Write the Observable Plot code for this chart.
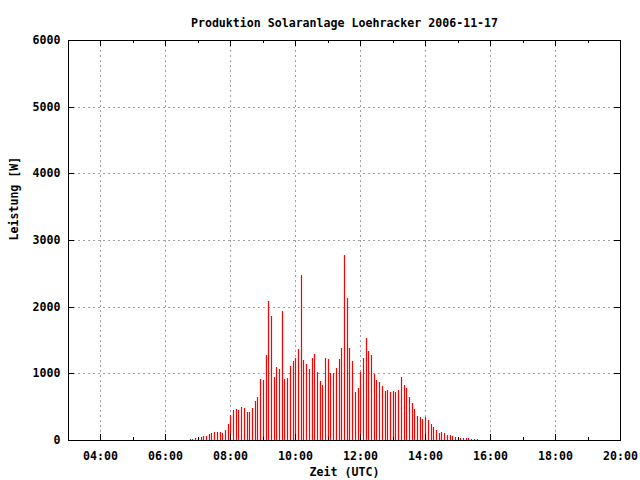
<!DOCTYPE html>
<html><head><meta charset="utf-8">
<script src="https://cdn.jsdelivr.net/npm/d3@7"></script>
<script src="https://cdn.jsdelivr.net/npm/@observablehq/plot@0.6"></script>
<style>body{margin:0;background:#fff}</style>
</head><body><div id="chart"></div>
<script>
const title = "Produktion Solaranlage Loehracker 2006-11-17";
const day = "2006-11-17";
const xLabel = "Zeit (UTC)";
const yLabel = "Leistung [W]";
const startTime = "06:45";
const stepMinutes = 5;
const power = [
  15, 15, 30, 30, 45, 60, 60, 90, 105, 120, 120, 120, 105, 150, 240, 375, 450, 465, 450, 495, 480, 420, 420, 480,
  585, 645, 915, 900, 1275, 2085, 1860, 945, 1095, 1065, 1935, 915, 930, 1110, 1185, 1230, 1365, 2475, 1200, 1140, 1065,
  1230, 1290, 1020, 885, 825, 1230, 1215, 1005, 1005, 1080, 1215, 1380, 2775, 2130, 1380, 1185, 720, 780, 1020, 1230, 1530,
  1335, 1275, 990, 900, 870, 810, 735, 750, 720, 735, 720, 750, 945, 825, 780, 645, 555, 465, 360, 345, 315, 345, 300,
  240, 195, 150, 105, 120, 105, 75, 75, 60, 45, 30, 30, 30, 30, 30, 15, 15, 15
];
const xDomainLabels = ["03:00", "20:00"];
const xTickLabels = ["04:00", "06:00", "08:00", "10:00", "12:00", "14:00", "16:00", "18:00", "20:00"];
const xMinorLabels = ["05:00", "07:00", "09:00", "11:00", "13:00", "15:00", "17:00", "19:00"];
const yTicks = [0, 1000, 2000, 3000, 4000, 5000, 6000];

const toDate = hm => new Date(`${day}T${hm}:00Z`);
const t0 = toDate(startTime);
const data = power.map((p, i) => ({time: new Date(+t0 + i * stepMinutes * 60000), power: p}));
const xMajor = xTickLabels.map(toDate);
const xMinor = xMinorLabels.map(toDate);
const xDomain = xDomainLabels.map(toDate);

const W = 640, H = 480, mL = 68, mR = 20, mT = 40, mB = 40;
const fw = W - mL - mR, fh = H - mT - mB;
const grid = {stroke: "#a0a0a0", strokeOpacity: 1, strokeDasharray: "2,3"};

const chart = Plot.plot({
  width: W, height: H,
  marginLeft: mL, marginRight: mR, marginTop: mT, marginBottom: mB,
  style: {fontFamily: "'DejaVu Sans Mono', monospace", fontSize: "11.6px", fontWeight: "bold", background: "#fff", color: "#000"},
  x: {type: "utc", domain: xDomain, round: true, axis: null},
  y: {domain: [0, 6000], round: true, axis: null},
  marks: [
    Plot.gridX(xMajor.slice(0, -1), grid),
    Plot.gridY(yTicks.slice(1, -1), grid),
    Plot.ruleX(data, {x: "time", y1: 0, y2: "power", stroke: "#ff0000", strokeWidth: 1.2}),
    Plot.frame({stroke: "#000"}),
    Plot.tickX(xMajor, {x: d => d, insetTop: fh - 6, stroke: "#000"}),
    Plot.tickX(xMajor, {x: d => d, insetBottom: fh - 6, stroke: "#000"}),
    Plot.tickX(xMinor, {x: d => d, insetTop: fh - 3, stroke: "#000"}),
    Plot.tickX(xMinor, {x: d => d, insetBottom: fh - 3, stroke: "#000"}),
    Plot.tickY(yTicks, {y: d => d, insetRight: fw - 6, stroke: "#000"}),
    Plot.tickY(yTicks, {y: d => d, insetLeft: fw - 6, stroke: "#000"}),
    Plot.text(xMajor, {x: d => d, text: (d, i) => xTickLabels[i], frameAnchor: "bottom", dy: 19, fill: "#000"}),
    Plot.text(yTicks, {y: d => d, text: d => String(d), frameAnchor: "left", dx: -8, textAnchor: "end", fill: "#000"}),
    Plot.text([xLabel], {frameAnchor: "bottom", dy: 35, fill: "#000"}),
    Plot.text([yLabel], {frameAnchor: "left", dx: -54, rotate: -90, fill: "#000"}),
    Plot.text([title], {frameAnchor: "top", dy: -22, fill: "#000"})
  ]
});
document.getElementById("chart").appendChild(chart);
</script>
</body></html>
